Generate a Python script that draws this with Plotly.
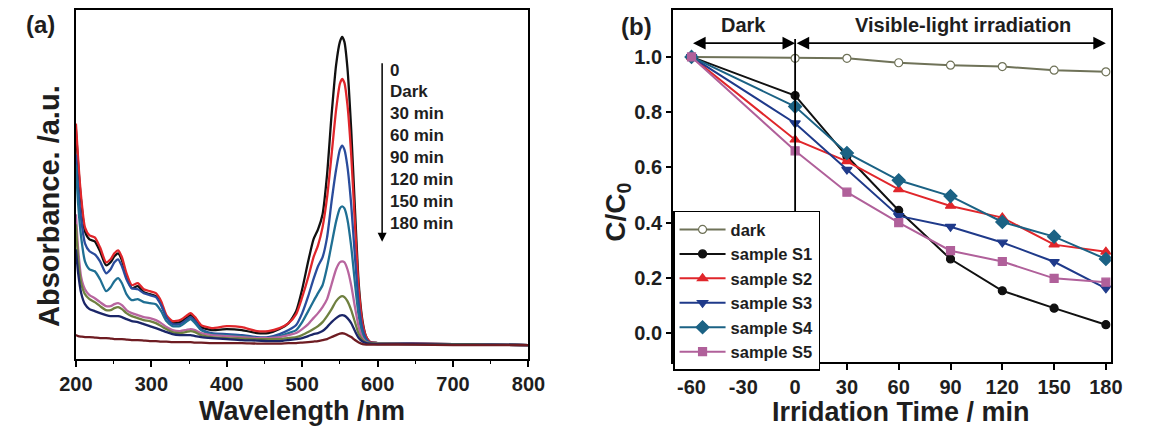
import plotly.graph_objects as go

# ---------------- Panel (a): UV-vis absorption spectra ----------------
wavelength = [200, 203, 207, 212, 218, 225, 232, 240, 246, 251, 256, 261, 267, 274, 282,
              290, 298, 306, 313, 320, 328, 338, 346, 352, 358, 366, 380, 400, 420, 440,
              455, 470, 482, 492, 500, 508, 515, 521, 527, 533, 539, 545, 550, 553, 556,
              560, 565, 570, 575, 580, 585, 590, 600, 650, 700, 750, 800]

abs_0 = [2.30, 1.95, 1.58, 1.28, 1.20, 1.18, 1.08, 0.94, 0.97, 1.03, 1.06, 0.99, 0.83, 0.71, 0.73,
         0.67, 0.65, 0.63, 0.55, 0.42, 0.36, 0.37, 0.41, 0.44, 0.40, 0.32, 0.29, 0.30, 0.29, 0.26,
         0.26, 0.30, 0.36, 0.48, 0.70, 0.98, 1.20, 1.30, 1.45, 1.85, 2.45, 2.95, 3.18, 3.23, 3.18,
         2.92, 2.30, 1.50, 0.75, 0.38, 0.22, 0.17, 0.16, 0.155, 0.15, 0.145, 0.14]
abs_dark = [2.36, 2.00, 1.62, 1.32, 1.24, 1.22, 1.12, 0.97, 1.00, 1.06, 1.09, 1.02, 0.86, 0.74, 0.76,
            0.70, 0.68, 0.66, 0.58, 0.44, 0.38, 0.39, 0.43, 0.46, 0.42, 0.34, 0.31, 0.33, 0.32, 0.28,
            0.28, 0.31, 0.36, 0.45, 0.62, 0.82, 1.02, 1.14, 1.32, 1.62, 2.05, 2.50, 2.76, 2.81, 2.77,
            2.55, 2.05, 1.35, 0.70, 0.36, 0.22, 0.17, 0.16, 0.155, 0.15, 0.145, 0.14]
abs_30 = [2.05, 1.70, 1.40, 1.16, 1.08, 1.05, 0.98, 0.86, 0.90, 0.97, 1.00, 0.93, 0.80, 0.71, 0.70,
          0.66, 0.64, 0.62, 0.54, 0.42, 0.35, 0.35, 0.39, 0.42, 0.38, 0.30, 0.26, 0.25, 0.24, 0.22,
          0.22, 0.25, 0.29, 0.34, 0.46, 0.63, 0.80, 0.93, 1.02, 1.22, 1.58, 1.90, 2.10, 2.14, 2.10,
          1.93, 1.55, 1.02, 0.55, 0.30, 0.20, 0.165, 0.16, 0.155, 0.15, 0.145, 0.14]
abs_60 = [1.95, 1.55, 1.22, 0.98, 0.90, 0.88, 0.80, 0.68, 0.72, 0.78, 0.81, 0.76, 0.65, 0.59, 0.60,
          0.57, 0.56, 0.55, 0.48, 0.38, 0.33, 0.33, 0.37, 0.40, 0.36, 0.29, 0.25, 0.24, 0.23, 0.21,
          0.21, 0.23, 0.26, 0.29, 0.37, 0.48, 0.58, 0.66, 0.74, 0.92, 1.15, 1.38, 1.51, 1.53, 1.51,
          1.40, 1.13, 0.76, 0.43, 0.25, 0.18, 0.16, 0.155, 0.15, 0.15, 0.145, 0.14]
abs_90 = [1.45, 1.10, 0.82, 0.70, 0.64, 0.61, 0.57, 0.53, 0.53, 0.55, 0.56, 0.54, 0.49, 0.46, 0.44,
          0.42, 0.41, 0.39, 0.36, 0.32, 0.29, 0.28, 0.29, 0.30, 0.29, 0.26, 0.24, 0.23, 0.22, 0.21,
          0.21, 0.22, 0.24, 0.26, 0.30, 0.35, 0.41, 0.46, 0.52, 0.60, 0.75, 0.90, 0.97, 0.98, 0.97,
          0.90, 0.74, 0.52, 0.32, 0.21, 0.17, 0.16, 0.155, 0.15, 0.15, 0.145, 0.14]
abs_120 = [1.35, 1.00, 0.76, 0.65, 0.60, 0.57, 0.53, 0.49, 0.49, 0.51, 0.52, 0.50, 0.46, 0.43, 0.41,
           0.39, 0.38, 0.36, 0.33, 0.30, 0.27, 0.26, 0.27, 0.28, 0.27, 0.24, 0.22, 0.21, 0.205, 0.20,
           0.20, 0.20, 0.21, 0.22, 0.24, 0.27, 0.30, 0.33, 0.37, 0.43, 0.50, 0.58, 0.62, 0.63, 0.62,
           0.58, 0.49, 0.37, 0.25, 0.19, 0.165, 0.16, 0.155, 0.15, 0.15, 0.145, 0.14]
abs_150 = [1.10, 0.86, 0.66, 0.55, 0.50, 0.48, 0.46, 0.44, 0.43, 0.43, 0.43, 0.42, 0.40, 0.38, 0.37,
           0.35, 0.33, 0.31, 0.29, 0.27, 0.25, 0.24, 0.24, 0.24, 0.23, 0.22, 0.21, 0.20, 0.19, 0.185,
           0.18, 0.18, 0.19, 0.20, 0.21, 0.23, 0.25, 0.26, 0.28, 0.32, 0.37, 0.41, 0.435, 0.44, 0.435,
           0.41, 0.36, 0.28, 0.21, 0.175, 0.16, 0.155, 0.15, 0.15, 0.145, 0.145, 0.14]
abs_180 = [0.24, 0.23, 0.225, 0.22, 0.22, 0.215, 0.21, 0.21, 0.205, 0.20, 0.20, 0.20, 0.195, 0.19, 0.19,
           0.185, 0.18, 0.18, 0.175, 0.175, 0.17, 0.17, 0.17, 0.17, 0.165, 0.165, 0.16, 0.16, 0.16, 0.155,
           0.155, 0.155, 0.16, 0.16, 0.165, 0.17, 0.175, 0.18, 0.19, 0.20, 0.22, 0.24, 0.255, 0.258, 0.255,
           0.24, 0.22, 0.19, 0.165, 0.15, 0.145, 0.145, 0.145, 0.145, 0.14, 0.14, 0.14]

spectra = [abs_0, abs_dark, abs_30, abs_60, abs_90, abs_120, abs_150, abs_180]
spectra_labels = ["0", "Dark", "30 min", "60 min", "90 min", "120 min", "150 min", "180 min"]
spectra_colors = ["#111111", "#e0262b", "#2a4c9c", "#1f6f93", "#b8659f", "#6f8040", "#1b2668", "#6e1c22"]
wavelength_ticks = [200, 300, 400, 500, 600, 700, 800]

# ---------------- Panel (b): degradation kinetics ----------------
time_min = [-60, 0, 30, 60, 90, 120, 150, 180]
time_ticks = [-60, -30, 0, 30, 60, 90, 120, 150, 180]
time_tick_text = ["-60", "-30", "0", "30", "60", "90", "120", "150", "180"]
ratio_ticks = [0.0, 0.2, 0.4, 0.6, 0.8, 1.0]
series_names = ["dark", "sample S1", "sample S2", "sample S3", "sample S4", "sample S5"]
c_dark = [1.0, 0.995, 0.995, 0.979, 0.970, 0.965, 0.952, 0.946]
c_s1 = [1.0, 0.86, 0.64, 0.444, 0.268, 0.153, 0.090, 0.030]
c_s2 = [1.0, 0.70, 0.622, 0.520, 0.460, 0.418, 0.320, 0.294]
c_s3 = [1.0, 0.76, 0.592, 0.424, 0.385, 0.328, 0.258, 0.162]
c_s4 = [1.0, 0.82, 0.652, 0.553, 0.496, 0.402, 0.349, 0.268]
c_s5 = [1.0, 0.66, 0.510, 0.400, 0.298, 0.259, 0.198, 0.184]
series_values = [c_dark, c_s1, c_s2, c_s3, c_s4, c_s5]

series_styles = [
    dict(color="#6f7258", symbol="circle", fill="white", size=8),
    dict(color="#111111", symbol="circle", fill="#111111", size=8),
    dict(color="#e0262b", symbol="triangle-up", fill="#e0262b", size=9),
    dict(color="#1f3a8a", symbol="triangle-down", fill="#1f3a8a", size=9),
    dict(color="#1b6284", symbol="diamond", fill="#1b6284", size=10),
    dict(color="#b0609a", symbol="square", fill="#b0609a", size=8),
]

FONT = "Liberation Sans, Arial, sans-serif"
W, H = 1152, 433
TXT = "#1e1e1e"

fig = go.Figure()

for vals, name, col in zip(spectra, spectra_labels, spectra_colors):
    fig.add_trace(go.Scatter(
        x=wavelength, y=vals, mode="lines", name=name, showlegend=False,
        line=dict(color=col, width=2.3, shape="spline", smoothing=0.6),
        xaxis="x", yaxis="y",
    ))

for vals, name, st in zip(series_values, series_names, series_styles):
    fig.add_trace(go.Scatter(
        x=time_min, y=vals, mode="lines+markers", name=name,
        line=dict(color=st["color"], width=2),
        marker=dict(symbol=st["symbol"], size=st["size"], color=st["fill"],
                    line=dict(color=st["color"], width=1.2)),
        xaxis="x2", yaxis="y2",
    ))

# subplot frames in pixel terms
ax_a = dict(l=60.7, r=527, t=10, b=359)
ax_b = dict(l=676, r=1127, t=10, b=361.7)

frame = dict(showline=True, linecolor="black", linewidth=2, mirror=True,
             showgrid=False, zeroline=False)
tickfont = dict(family=FONT, size=20, color=TXT, weight="bold")

fig.update_layout(
    width=W, height=H,
    margin=dict(l=0, r=0, t=0, b=0),
    paper_bgcolor="white", plot_bgcolor="white",
    xaxis=dict(domain=[ax_a["l"] / W, ax_a["r"] / W], range=[200, 800],
               tickvals=wavelength_ticks, ticks="outside",
               ticklen=6, tickwidth=1.5, tickcolor="black", tickfont=tickfont,
               minor=dict(dtick=50, ticks="outside", ticklen=3, tickwidth=1.2, tickcolor="black"),
               **frame),
    yaxis=dict(domain=[1 - ax_a["b"] / H, 1 - ax_a["t"] / H], range=[0, 3.5],
               showticklabels=False, ticks="", **frame),
    xaxis2=dict(domain=[ax_b["l"] / W, ax_b["r"] / W], range=[-70.7, 182.8],
                tickvals=time_ticks, ticktext=time_tick_text, ticks="outside",
                ticklen=6, tickwidth=1.5, tickcolor="black", tickfont=tickfont,
                anchor="y2", **frame),
    yaxis2=dict(domain=[1 - ax_b["b"] / H, 1 - ax_b["t"] / H], range=[-0.104, 1.17],
                tickvals=ratio_ticks, tickformat=".1f", ticks="outside",
                ticklen=5, tickwidth=1.5, tickcolor="black", tickfont=tickfont,
                anchor="x2", **frame),
    legend=dict(x=ax_b["l"] / W, y=1 - 210.7 / H, xanchor="left", yanchor="top",
                bgcolor="white", bordercolor="black", borderwidth=1.5,
                font=dict(family=FONT, size=16.5, color=TXT, weight="bold"),
                itemwidth=46, tracegroupgap=0, entrywidth=148),
)

# dark / light boundary marker at t = 0
fig.add_shape(type="line", xref="x2", yref="y2", x0=0, x1=0, y0=0.44, y1=1.065,
              line=dict(color="black", width=1.8))

# double-headed arrows for the dark and irradiation periods
for x_start, x_end in [(-60, 0), (0, 180)]:
    fig.add_annotation(xref="x2", yref="y2", axref="x2", ayref="y2",
                       x=x_end, y=1.05, ax=x_start, ay=1.05, text="",
                       showarrow=True, arrowhead=2, arrowside="end+start",
                       arrowsize=1.4, arrowwidth=1.8, arrowcolor="black")


def bold(size):
    return dict(family=FONT, size=size, color=TXT, weight="bold")


def label(x, y, text, size, ref=("paper", "paper"), angle=0, xanchor="center"):
    fig.add_annotation(xref=ref[0], yref=ref[1], x=x, y=y, text=text, textangle=angle,
                       showarrow=False, xanchor=xanchor, yanchor="middle", font=bold(size))


label(-30, 1.115, "Dark", 20, ref=("x2", "y2"))
label(97, 1.115, "Visible-light irradiation", 20, ref=("x2", "y2"))

# time-order arrow and labels in panel (a)
fig.add_annotation(xref="x", yref="y", x=606, y=1.176, ax=606, ay=2.98,
                   axref="x", ayref="y", text="", showarrow=True, arrowhead=2,
                   arrowsize=1.2, arrowwidth=1.5, arrowcolor="black")
label_top, label_step = 2.898, 0.2196
for i, lab in enumerate(spectra_labels):
    label(614, label_top - i * label_step, lab, 17, ref=("x", "y"), xanchor="left")

# panel tags and axis titles
label(24 / W, 1 - 25 / H, "(a)", 24)
label(638 / W, 1 - 26 / H, "(b)", 24)
label(33 / W, 1 - 206 / H, "Absorbance. /a.u.", 29, angle=-90)
label(294 / W, 1 - 411 / H, "Wavelength /nm", 27)
label(618 / W, 1 - 212 / H, "C/C<sub>0</sub>", 28, angle=-90)
label(911 / W, 1 - 412 / H, "Irridation Time / min", 27)

fig.write_html("out.html")
